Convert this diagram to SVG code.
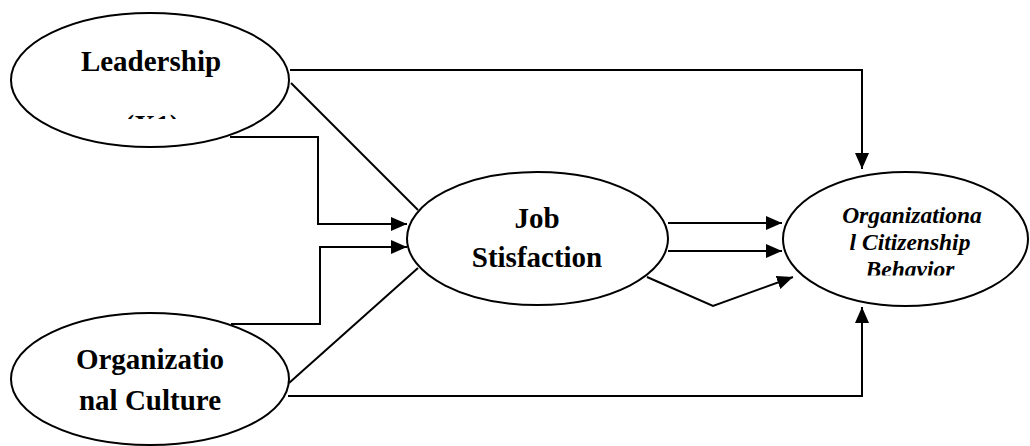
<svg xmlns="http://www.w3.org/2000/svg" width="1030" height="446" viewBox="0 0 1030 446">
<style>
.node{fill:#fff;stroke:#000;stroke-width:2}
.lbl{font-family:"Liberation Serif","Times New Roman",serif;font-weight:bold;font-size:29px;text-anchor:middle;fill:#000}
.ital{font-family:"Liberation Serif","Times New Roman",serif;font-weight:bold;font-style:italic;font-size:23.5px;text-anchor:middle;fill:#000}
.con{fill:none;stroke:#000;stroke-width:2}
</style>
<defs>
<marker id="arr" markerUnits="userSpaceOnUse" markerWidth="16" markerHeight="14" refX="16" refY="7" orient="auto">
<path d="M0,0 L16,7 L0,14 Z" fill="#000"/>
</marker>
<clipPath id="clipX"><rect x="100" y="114" width="100" height="5"/></clipPath>
<clipPath id="clipB"><rect x="780" y="150" width="250" height="125.5"/></clipPath>
</defs>
<g id="connectors">
<path class="con" d="M290,70 H862 V169" marker-end="url(#arr)"/>
<path class="con" d="M291,83 L418,210"/>
<path class="con" d="M230,137 H318 V224 H407" marker-end="url(#arr)"/>
<path class="con" d="M231,324 H320 V247 H407" marker-end="url(#arr)"/>
<path class="con" d="M289,383 L418,268"/>
<path class="con" d="M288,396 H862 V307" marker-end="url(#arr)"/>
<path class="con" d="M668,223 H782" marker-end="url(#arr)"/>
<path class="con" d="M668,251 H782" marker-end="url(#arr)"/>
<path class="con" d="M647,277 L713,306 L793,277" marker-end="url(#arr)"/>
</g>
<g id="leadership">
<ellipse class="node" cx="150" cy="80" rx="139" ry="67"/>
<text class="lbl" x="151" y="71">Leadership</text>
<text class="lbl" x="152" y="135" clip-path="url(#clipX)" font-size="24">(X1)</text>
</g>
<g id="organizational-culture">
<ellipse class="node" cx="150" cy="379" rx="139" ry="66"/>
<text class="lbl" x="150" y="369">Organizatio</text>
<text class="lbl" x="150" y="410">nal Culture</text>
</g>
<g id="job-satisfaction">
<ellipse class="node" cx="537.5" cy="238.5" rx="130.5" ry="66.5"/>
<text class="lbl" x="537" y="228">Job</text>
<text class="lbl" x="537" y="267">Stisfaction</text>
</g>
<g id="ocb">
<ellipse class="node" cx="905.5" cy="239" rx="122.5" ry="67"/>
<text class="ital" x="912" y="223">Organizationa</text>
<text class="ital" x="910" y="250">l Citizenship</text>
<text class="ital" x="910" y="277" clip-path="url(#clipB)">Behavior</text>
</g>
</svg>
